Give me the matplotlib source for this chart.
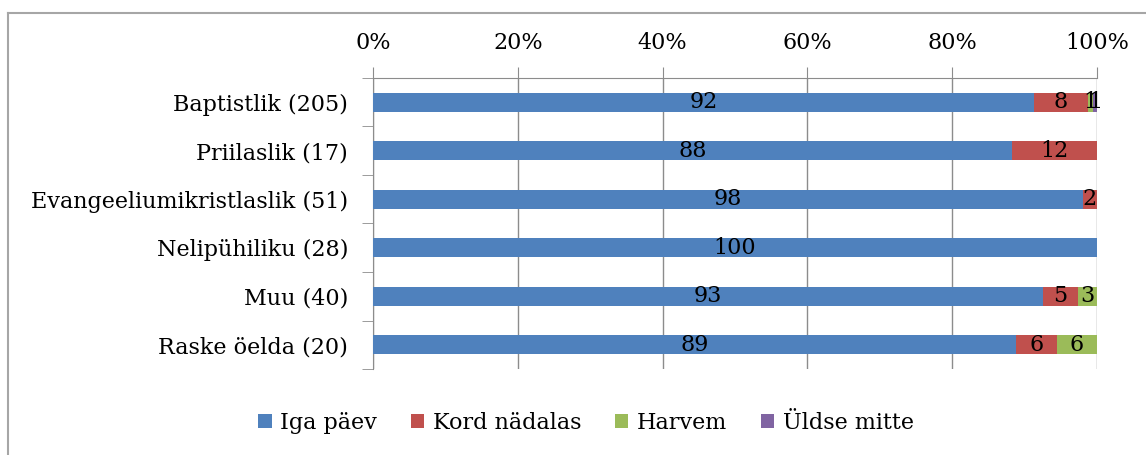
import numpy as np
import matplotlib
matplotlib.use("Agg")
import matplotlib.pyplot as plt
from matplotlib.lines import Line2D
from matplotlib.ticker import FixedLocator, PercentFormatter

plt.rcParams['font.family'] = ['DejaVu Serif']

categories = ["Baptistlik (205)", "Priilaslik (17)", "Evangeeliumikristlaslik (51)",
              "Nelipühiliku (28)", "Muu (40)", "Raske öelda (20)"]
series_names = ["Iga päev", "Kord nädalas", "Harvem", "Üldse mitte"]
iga_paev = [91.6, 88.2, 98.0, 100.0, 92.6, 88.8]
kord_nadalas = [7.6, 11.8, 2.0, 0.0, 4.9, 5.6]
harvem = [0.6, 0.0, 0.0, 0.0, 2.6, 5.6]
uldse_mitte = [0.6, 0.0, 0.0, 0.0, 0.0, 0.0]
colors = ["#4F81BD", "#C0504D", "#9BBB59", "#8064A2"]

data = np.array([iga_paev, kord_nadalas, harvem, uldse_mitte])
shares = data / data.sum(axis=0) * 100

fig = plt.figure(figsize=(11.46, 4.55), dpi=100)
ax = fig.add_axes([0.3255, 0.189, 0.6318, 0.6396])

y = np.arange(len(categories))
left = np.zeros(len(categories))
handles = []
for name, vals, share, col in zip(series_names, data, shares, colors):
    bars = ax.barh(y, share, left=left, height=0.39, color=col, label=name, zorder=3)
    handles.append(bars)
    labels = ["{:.0f}".format(v) if v > 0 else "" for v in vals]
    ax.bar_label(bars, labels=labels, label_type="center", fontsize=16, color="black")
    left += share

ax.set_xlim(0, 100)
ax.set_ylim(len(categories) - 0.5, -0.5)
ax.xaxis.set_major_locator(FixedLocator([0, 20, 40, 60, 80, 100]))
ax.xaxis.set_major_formatter(PercentFormatter(decimals=0))
ax.xaxis.tick_top()
ax.tick_params(axis="x", direction="out", length=8, color="#8c8c8c", labelsize=16, pad=9)
ax.grid(axis="x", color="#8c8c8c", linewidth=1, zorder=0)

ax.set_yticks(y)
ax.set_yticklabels(categories)
ax.yaxis.set_minor_locator(FixedLocator(np.arange(-0.5, len(categories), 1.0)))
ax.tick_params(axis="y", which="major", length=0, labelsize=16, pad=18)
ax.tick_params(axis="y", which="minor", length=8, color="#8c8c8c", direction="out")

for side in ["right", "bottom"]:
    ax.spines[side].set_visible(False)
ax.spines["left"].set_color("#8c8c8c")
ax.spines["top"].set_color("#8c8c8c")

fig.legend(handles=handles, loc="center", bbox_to_anchor=(586 / 1146, 1 - 423 / 455),
           ncol=4, frameon=False, fontsize=16, handlelength=0.6, handleheight=0.6,
           handletextpad=0.4, columnspacing=1.5)

# outer chart frame
fig.add_artist(Line2D([8 / 1146, 8 / 1146], [0, 1 - 13 / 455], transform=fig.transFigure,
                      color="#a6a6a6", linewidth=1.5))
fig.add_artist(Line2D([8 / 1146, 1], [1 - 13 / 455, 1 - 13 / 455], transform=fig.transFigure,
                      color="#a6a6a6", linewidth=1.5))

fig.savefig("out.png", dpi=100)
